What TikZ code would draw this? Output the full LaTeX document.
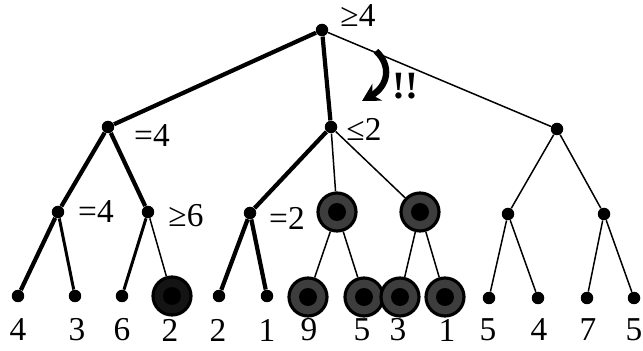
\documentclass[tikz,border=0pt]{standalone}
\usepackage{fontspec}
\setmainfont{Liberation Serif}
\usetikzlibrary{arrows.meta,positioning}

\begin{document}
\begin{tikzpicture}[x=0.02cm, y=-0.02cm,
  dot/.style={circle, fill=black, inner sep=0pt, minimum size=0.25cm},
  bigdot/.style={circle, fill=black!76, draw=black, line width=1.8pt, inner sep=0pt,
                 minimum size=0.76cm,
                 path picture={\fill[black] (path picture bounding box.center) circle (0.18cm);}},
  lab/.style={font=\fontsize{19}{22}\selectfont, inner sep=1pt},
  strong/.style={line width=2.4pt},
  mid/.style={line width=1.7pt},
  weak/.style={line width=0.85pt},
  cutarrow/.style={-{Stealth[length=10pt, width=11pt]}, line width=3.6pt}]

  \useasboundingbox (0,0) rectangle (643,351);

  % Root and first level
  \node[dot] (R) at (322,30)  {};
  \node[dot] (A) at (108,127) {};
  \node[dot] (B) at (331,127) {};
  \node[dot] (C) at (557,129) {};

  % Second level
  \node[dot]    (AA) at (58,212)  {};
  \node[dot]    (AB) at (148,212) {};
  \node[dot]    (BA) at (250,213) {};
  \node[bigdot] (BB) at (337,212) {};
  \node[bigdot] (BC) at (420,212) {};
  \node[dot]    (CA) at (508,214) {};
  \node[dot]    (CB) at (604,214) {};

  % Leaves
  \node[dot]    (L1)  at (18,296)  {};
  \node[dot]    (L2)  at (75,296)  {};
  \node[dot]    (L3)  at (122,296) {};
  \node[bigdot, fill=black!92] (L4) at (172,296) {};
  \node[dot]    (L5)  at (219,296) {};
  \node[dot]    (L6)  at (267,296) {};
  \node[bigdot] (L7)  at (308,297) {};
  \node[bigdot] (L8)  at (364,297) {};
  \node[bigdot] (L9)  at (400,297) {};
  \node[bigdot] (L10) at (445,297) {};
  \node[dot]    (L11) at (489,298) {};
  \node[dot]    (L12) at (538,298) {};
  \node[dot]    (L13) at (587,298) {};
  \node[dot]    (L14) at (634,298) {};

  % Leaf values
  \foreach \x/\v in {18/4, 77/3, 122/6, 170/2, 218/2, 267/1, 309/9,
                     362/5, 398/3, 447/1, 488/5, 539/4, 588/7, 634/5}
    \node[lab] at (\x,330) {\v};

  % Edges
  \draw[strong] (R) -- (A);
  \draw[strong] (R) -- (B);
  \draw[weak]   (R) -- (C);
  \draw[strong] (A) -- (AA);
  \draw[strong] (A) -- (AB);
  \draw[strong] (B) -- (BA);
  \draw[weak]   (B) -- (BB);
  \draw[weak]   (B) -- (BC);
  \draw[weak]   (C) -- (CA);
  \draw[weak]   (C) -- (CB);
  \draw[strong] (AA) -- (L1);
  \draw[mid]    (AA) -- (L2);
  \draw[mid]    (AB) -- (L3);
  \draw[weak]   (AB) -- (L4);
  \draw[strong] (BA) -- (L5);
  \draw[strong] (BA) -- (L6);
  \draw[weak]   (BB) -- (L7);
  \draw[weak]   (BB) -- (L8);
  \draw[weak]   (BC) -- (L9);
  \draw[weak]   (BC) -- (L10);
  \draw[weak]   (CA) -- (L11);
  \draw[weak]   (CA) -- (L12);
  \draw[weak]   (CB) -- (L13);
  \draw[weak]   (CB) -- (L14);

  % Bound labels
  \node[lab] (lR)  at (358,16)  {≥4};
  \node[lab] (lA)  at (152,136) {=4};
  \node[lab] (lB)  at (364,129) {≤2};
  \node[lab] (lAA) at (96,212)  {=4};
  \node[lab] (lAB) at (186,216) {≥6};
  \node[lab] (lBA) at (287,218) {=2};

  % Cut-off arrow
  \coordinate (cs) at (376,51);
  \coordinate (ce) at (362,101);
  \draw[cutarrow] (cs) .. controls (392,66) and (388,86) .. (ce);
  \node[lab, font=\fontsize{22}{24}\selectfont\bfseries] (cut) at (405,86) {!!};
\end{tikzpicture}
\end{document}
